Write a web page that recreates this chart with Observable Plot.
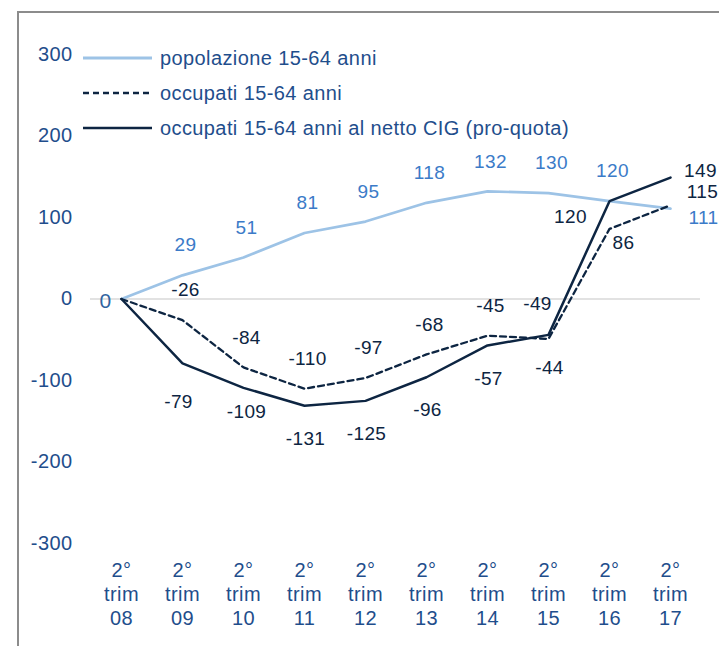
<!DOCTYPE html>
<html>
<head>
<meta charset="utf-8">
<script src="https://cdn.jsdelivr.net/npm/d3@7"></script>
<script src="https://cdn.jsdelivr.net/npm/@observablehq/plot@0.6"></script>
<style>
  body { margin: 0; background: #fff; }
  #wrap { position: relative; width: 719px; height: 646px; overflow: hidden; font-family: "Liberation Sans", Arial, sans-serif; }
  #frame { position: absolute; left: 17px; top: 11px; width: 760px; height: 700px; border-left: 2px solid #8c8c8c; border-top: 2px solid #8c8c8c; }
  #chart { position: absolute; left: 0; top: 0; }
  .lg { position: absolute; left: 83px; height: 22px; display: flex; align-items: center; font-size: 20px; letter-spacing: 0.4px; color: #1f4e8c; white-space: nowrap; }
  .lg svg { margin-right: 8px; }
</style>
</head>
<body>
<div id="wrap">
  <div id="frame"></div>
  <div id="chart"></div>
  <div id="legend"></div>
</div>
<script>
// ---- data ----
const periods = ["08", "09", "10", "11", "12", "13", "14", "15", "16", "17"];
const popolazione = [0, 29, 51, 81, 95, 118, 132, 130, 120, 111];
const occupati = [0, -26, -84, -110, -97, -68, -45, -49, 86, 115];
const occupatiNettoCIG = [0, -79, -109, -131, -125, -96, -57, -44, 120, 149];
const yTicks = [-300, -200, -100, 0, 100, 200, 300];
const seriesNames = [
  "popolazione 15-64 anni",
  "occupati 15-64 anni",
  "occupati 15-64 anni al netto CIG (pro-quota)"
];

// ---- label placement (style) ----
const popPlace = ["left0", "above", "above", "above", "above", "above", "above", "above", "above", "rightDown"];
const occPlace = [null, "above", "above", "above", "above", "above", "above", "aboveLeft", "belowRight", "rightMid"];
const cigPlace = [null, "belowFar", "belowNear", "below", "below", "below", "below", "below", "belowLeft", "rightUp"];
const offsets = {
  above: [3, -30], aboveLeft: [-11, -35], below: [1, 33], belowFar: [-4, 39], belowNear: [3, 24],
  left0: [-16, 2], rightDown: [33, 9], rightMid: [32, -13], rightUp: [30, -7],
  belowRight: [14, 14], belowLeft: [-39, 16]
};

const navy = "#0d2542";
const light = "#9dc3e6";
const popLabel = "#3b7bc8";
const axisBlue = "#1f4e8c";

const styles = [
  {stroke: light, dash: null, width: 2.7, labelFill: popLabel, place: popPlace, values: popolazione},
  {stroke: navy, dash: "6,4", width: 2.3, labelFill: navy, place: occPlace, values: occupati},
  {stroke: navy, dash: null, width: 2.5, labelFill: navy, place: cigPlace, values: occupatiNettoCIG}
];

const marks = [
  Plot.ruleY([0], {stroke: "#d9d9d9", strokeWidth: 1.5}),
  Plot.axisY({ticks: yTicks, tickSize: 0, tickPadding: 18, fontSize: 20, fill: axisBlue, label: null,
    tickFormat: d => String(d)}),
  Plot.axisX({tickSize: 0, tickPadding: 16, fontSize: 20, lineHeight: 1.2, fill: axisBlue, label: null,
    tickFormat: p => `2°\ntrim\n${p}`})
];

styles.forEach(s => {
  const rows = periods.map((p, i) => ({period: p, value: s.values[i], place: s.place[i]}));
  marks.push(Plot.line(rows, {x: "period", y: "value", stroke: s.stroke, strokeWidth: s.width,
    strokeDasharray: s.dash, strokeLinejoin: "miter"}));
});

styles.forEach(s => {
  const rows = periods.map((p, i) => ({period: p, value: s.values[i], place: s.place[i]}));
  Object.entries(offsets).forEach(([k, [dx, dy]]) => {
    const sub = rows.filter(r => r.place === k);
    if (!sub.length) return;
    marks.push(Plot.text(sub, {x: "period", y: "value", text: d => String(d.value), dx, dy,
      fill: k === "left0" ? "#32649f" : s.labelFill, fontSize: k === "left0" ? 21 : 19}));
  });
});

const chart = Plot.plot({
  width: 719,
  height: 646,
  marginLeft: 90,
  marginRight: 19,
  marginTop: 54,
  marginBottom: 103,
  style: {fontFamily: "'Liberation Sans', Arial, sans-serif", letterSpacing: "0.4px", background: "transparent", overflow: "visible"},
  x: {type: "point", domain: periods, padding: 0.5},
  y: {domain: [-300, 300]},
  marks
});
document.getElementById("chart").appendChild(chart);

// ---- legend ----
const legendRows = [
  {name: seriesNames[0], stroke: light, dash: null, w: 3, cy: 58},
  {name: seriesNames[1], stroke: navy, dash: "6,4", w: 2.3, cy: 93},
  {name: seriesNames[2], stroke: navy, dash: null, w: 2.6, cy: 128}
];
const lg = document.getElementById("legend");
legendRows.forEach(r => {
  const div = document.createElement("div");
  div.className = "lg";
  div.style.top = (r.cy - 11) + "px";
  div.innerHTML = `<svg width="69" height="6"><line x1="0" x2="69" y1="3" y2="3" stroke="${r.stroke}" stroke-width="${r.w}" ${r.dash ? `stroke-dasharray="${r.dash}"` : ""}/></svg><span>${r.name}</span>`;
  lg.appendChild(div);
});
</script>
</body>
</html>
